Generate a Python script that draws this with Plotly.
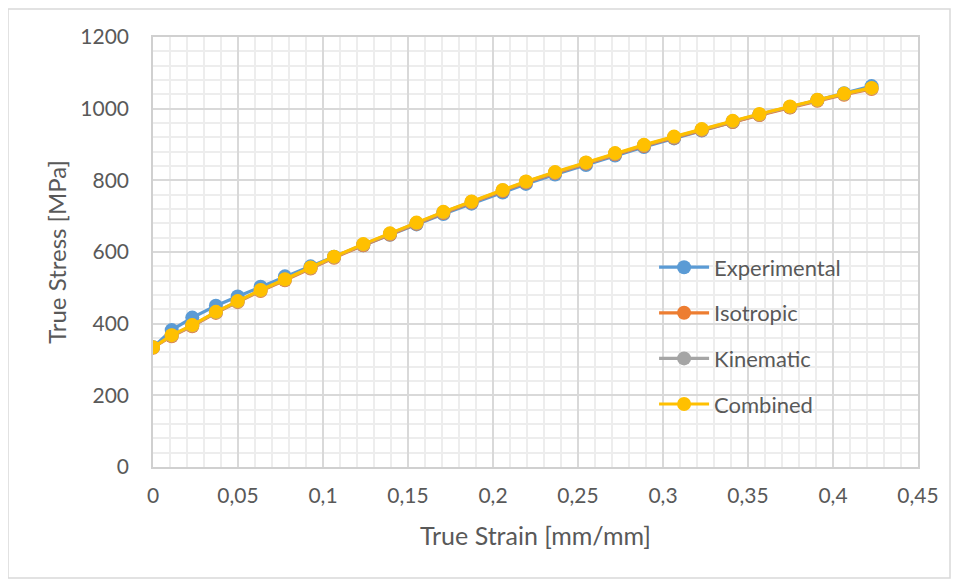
import plotly.graph_objects as go

strain = [0, 0.011, 0.0231, 0.037, 0.0498, 0.0633, 0.0776, 0.0927, 0.1065, 0.1237,
          0.1394, 0.155, 0.1708, 0.1874, 0.2057, 0.2194, 0.2365, 0.2547, 0.2718, 0.2888,
          0.3065, 0.3228, 0.341, 0.3567, 0.3747, 0.3908, 0.4065, 0.4227]

experimental = [334, 382, 417, 450, 476, 503, 532, 560, 587, 619,
                648, 677, 706, 735, 766, 790, 816, 843, 869, 893,
                917, 939, 963, 983, 1004, 1024, 1043, 1063]

isotropic = [333, 365, 393, 430, 460, 491, 521, 554, 584, 619,
             649, 679, 709, 738, 770, 794, 820, 847, 873, 896,
             919, 940, 963, 982, 1003, 1022, 1039, 1055]

kinematic = [334, 367, 395, 432, 462, 493, 523, 556, 586, 621,
             651, 681, 711, 740, 772, 796, 822, 849, 875, 898,
             921, 942, 965, 984, 1005, 1024, 1041, 1057]

combined = [334, 368, 396, 433, 463, 494, 524, 557, 587, 622,
            652, 682, 712, 741, 773, 797, 823, 850, 876, 899,
            922, 943, 966, 985, 1006, 1025, 1042, 1058]

series_names = ["Experimental", "Isotropic", "Kinematic", "Combined"]
series_colors = ["#5B9BD5", "#ED7D31", "#A5A5A5", "#FFC000"]

x_tickvals = [0, 0.05, 0.1, 0.15, 0.2, 0.25, 0.3, 0.35, 0.4, 0.45]
x_ticktext = ["0", "0,05", "0,1", "0,15", "0,2", "0,25", "0,3", "0,35", "0,4", "0,45"]
y_tickvals = [0, 200, 400, 600, 800, 1000, 1200]
y_ticktext = ["0", "200", "400", "600", "800", "1000", "1200"]

fig = go.Figure()
for name, ys, col in zip(series_names, [experimental, isotropic, kinematic, combined], series_colors):
    fig.add_trace(go.Scatter(
        x=strain, y=ys, name=name, mode="lines+markers",
        line=dict(color=col, width=3.2),
        marker=dict(color=col, size=14),
        legendgroup=name,
    ))

font_family = "Lato, 'Open Sans', sans-serif"
fig.update_layout(
    width=959, height=580,
    paper_bgcolor="white", plot_bgcolor="white",
    margin=dict(l=145, r=49, t=29, b=121, autoexpand=False),
    font=dict(family=font_family, color="#595959", size=21),
    showlegend=True,
    legend=dict(
        x=0.655, y=0.513, xanchor="left", yanchor="top",
        bgcolor="rgba(0,0,0,0)", font=dict(size=22, color="#595959"),
        tracegroupgap=14, itemwidth=50,
    ),
    xaxis=dict(
        range=[0, 0.45], tickmode="array", tickvals=x_tickvals, ticktext=x_ticktext,
        showgrid=True, gridcolor="#d9d9d9", gridwidth=1.5,
        minor=dict(tickmode="linear", tick0=0, dtick=0.01, showgrid=True, gridcolor="#ededed", gridwidth=1.5),
        showline=True, linecolor="#d0d0d0", linewidth=1.5, mirror=True,
        zeroline=False, ticks="", ticklabelstandoff=9, automargin=False,
        title=dict(text="True Strain [mm/mm]", font=dict(size=25, color="#595959"), standoff=22),
        tickfont=dict(size=21, color="#595959"),
    ),
    yaxis=dict(
        range=[0, 1200], tickmode="array", tickvals=y_tickvals, ticktext=y_ticktext,
        showgrid=True, gridcolor="#d9d9d9", gridwidth=1.5,
        minor=dict(tickmode="linear", tick0=0, dtick=40, showgrid=True, gridcolor="#ededed", gridwidth=1.5),
        showline=True, linecolor="#d0d0d0", linewidth=1.5, mirror=True,
        zeroline=False, ticks="", ticklabelstandoff=18, automargin=False,
        title=dict(text="True Stress [MPa]", font=dict(size=24, color="#595959"), standoff=7),
        tickfont=dict(size=21, color="#595959"),
    ),
)

# outer chart border
fig.add_shape(type="rect", xref="paper", yref="paper",
              x0=(8 - 153) / 765, x1=(950 - 153) / 765,
              y0=(467 - 578) / 430, y1=(467 - 9) / 430,
              line=dict(color="#d9d9d9", width=1.5), fillcolor="rgba(0,0,0,0)", layer="below")

fig.write_html("out.html")
